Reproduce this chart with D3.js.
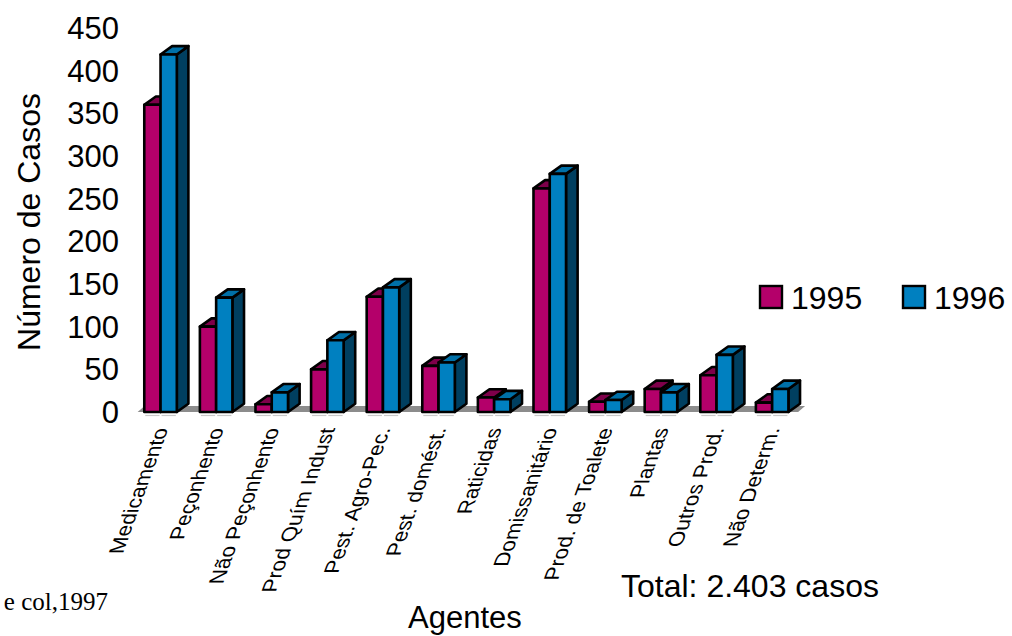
<!DOCTYPE html>
<html>
<head>
<meta charset="utf-8">
<script src="https://cdn.jsdelivr.net/npm/d3@7"></script>
<style>
  body { margin: 0; background: #fff; }
  svg { display: block; font-family: Arial, "Liberation Sans", sans-serif; }
</style>
</head>
<body>
<div id="chart"></div>
<script>
const categories = [
  "Medicamento", "Peçonhento", "Não Peçonhento", "Prod Quím Indust",
  "Pest. Agro-Pec.", "Pest. domést.", "Raticidas", "Domissanitário",
  "Prod. de Toalete", "Plantas", "Outros Prod.", "Não Determ."
];
const seriesNames = ["1995", "1996"];
const values1995 = [360, 100, 9, 50, 135, 54, 17, 262, 12, 27, 43, 11];
const values1996 = [419, 134, 23, 84, 146, 58, 15, 279, 14, 23, 67, 27];
const yTicks = [0, 50, 100, 150, 200, 250, 300, 350, 400, 450];

const width = 1012, height = 636;
const depthX = 11.6, depthY = -8.3;

const colors = {
  "1995": { front: "#b4006a", top: "#7e004a", side: "#5a0035" },
  "1996": { front: "#0080c0", top: "#0070a8", side: "#003f60" }
};

const svg = d3.select("#chart")
  .append("svg")
  .attr("width", width)
  .attr("height", height);

const x = d3.scaleBand()
  .domain(categories)
  .range([127.6, 805.1])
  .paddingInner(0.415)
  .paddingOuter(0.3);

const xSeries = d3.scaleBand()
  .domain(seriesNames)
  .range([0, x.bandwidth()]);

const y = d3.scaleLinear()
  .domain([0, 450])
  .range([412, 28]);

// floor
const floorLeft = x.range()[0] + 10;
const floorRight = x.range()[1];
svg.append("polygon")
  .attr("points", [
    [floorLeft, y(0)], [floorLeft + 7, y(0) - 6],
    [floorRight, y(0) - 6], [floorRight - 7, y(0)]
  ].map(p => p.join(",")).join(" "))
  .attr("fill", "#8c8c8c");

// little tick lines under the bars
const ticksG = svg.append("g");
categories.forEach(c => {
  seriesNames.forEach(s => {
    const x0 = x(c) + xSeries(s);
    ticksG.append("line")
      .attr("x1", x0 + 1).attr("x2", x0 + xSeries.bandwidth() - 1)
      .attr("y1", y(0) + 3.5).attr("y2", y(0) + 3.5)
      .attr("stroke", "#c8c8c8").attr("stroke-width", 1.2);
  });
});

// bars
const rows = categories.map((c, i) => ({
  cat: c,
  vals: [
    { s: "1995", v: values1995[i] },
    { s: "1996", v: values1996[i] }
  ]
}));

const groups = svg.selectAll("g.group")
  .data(rows)
  .enter()
  .append("g")
  .attr("class", "group");

groups.each(function (d) {
  const g = d3.select(this);
  d.vals.forEach(b => {
    const x0 = x(d.cat) + xSeries(b.s);
    const x1 = x0 + xSeries.bandwidth();
    const yt = y(b.v), yb = y(0);
    const c = colors[b.s];
    const stroke = { stroke: "#000", "stroke-width": 2.6, "stroke-linejoin": "round" };

    const side = g.append("polygon")
      .attr("points", [[x1, yb], [x1 + depthX, yb + depthY], [x1 + depthX, yt + depthY], [x1, yt]].map(p => p.join(",")).join(" "))
      .attr("fill", c.side);
    const top = g.append("polygon")
      .attr("points", [[x0, yt], [x0 + depthX, yt + depthY], [x1 + depthX, yt + depthY], [x1, yt]].map(p => p.join(",")).join(" "))
      .attr("fill", c.top);
    const front = g.append("rect")
      .attr("x", x0).attr("y", yt)
      .attr("width", x1 - x0).attr("height", yb - yt)
      .attr("fill", c.front);
    [side, top, front].forEach(el => {
      Object.entries(stroke).forEach(([k, v]) => el.attr(k, v));
    });
  });
});

// y axis labels (no line)
svg.append("g")
  .selectAll("text")
  .data(yTicks)
  .enter()
  .append("text")
  .attr("x", 119)
  .attr("y", d => y(d))
  .attr("dy", "0.36em")
  .attr("text-anchor", "end")
  .style("font-size", "31px")
  .text(d => d);

svg.append("text")
  .attr("transform", "translate(40,222) rotate(-90)")
  .attr("text-anchor", "middle")
  .style("font-size", "32px")
  .text("Número de Casos");

// category labels, slanted
svg.append("g")
  .selectAll("text")
  .data(categories)
  .enter()
  .append("text")
  .attr("transform", d => `translate(${x(d) + x.bandwidth() / 2 + 8},428) skewX(-20) rotate(-90)`)
  .attr("text-anchor", "end")
  .style("font-size", "21px")
  .text(d => d);

// legend
const legend = svg.append("g").attr("transform", "translate(760,286)");
const legendX = [0, 143];
seriesNames.forEach((s, i) => {
  legend.append("rect")
    .attr("x", legendX[i]).attr("y", 0)
    .attr("width", 22).attr("height", 22)
    .attr("fill", colors[s].front)
    .attr("stroke", "#000").attr("stroke-width", 2.4);
  legend.append("text")
    .attr("x", legendX[i] + 31).attr("y", 22.5)
    .style("font-size", "32px")
    .text(s);
});

svg.append("text")
  .attr("x", 621).attr("y", 597)
  .style("font-size", "32px")
  .text("Total: 2.403 casos");

svg.append("text")
  .attr("x", 465).attr("y", 628)
  .attr("text-anchor", "middle")
  .style("font-size", "31px")
  .text("Agentes");

svg.append("text")
  .attr("x", 108).attr("y", 610)
  .attr("text-anchor", "end")
  .style("font-family", "'Liberation Serif', 'DejaVu Serif', serif")
  .style("font-size", "25px")
  .text("e col,1997");
</script>
</body>
</html>
